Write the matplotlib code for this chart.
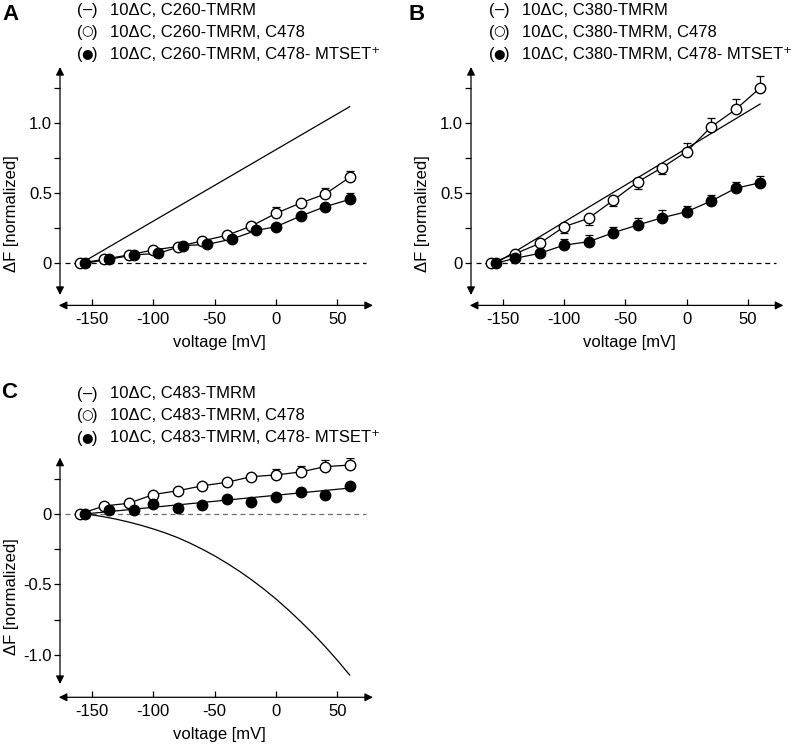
import matplotlib.pyplot as plt

plt.rcParams['font.family'] = ['Liberation Sans', 'DejaVu Sans']
plt.rcParams['axes.unicode_minus'] = False

volts = [-160, -140, -120, -100, -80, -60, -40, -20, 0, 20, 40, 60]

# panel A
a_open_v = volts
a_open_f = [0, 0.029, 0.06, 0.095, 0.12, 0.16, 0.20, 0.266, 0.357, 0.43, 0.494, 0.613]
a_open_err = [0, 0.01, 0.01, 0.01, 0.01, 0.01, 0.015, 0.03, 0.047, 0.01, 0.045, 0.045]
a_fill_v = [-156, -136, -116, -96, -76, -56, -36, -16, 0, 20, 40, 60]
a_fill_f = [0, 0.029, 0.06, 0.071, 0.126, 0.135, 0.173, 0.235, 0.261, 0.337, 0.404, 0.456]
a_fill_err = [0, 0.01, 0.01, 0.01, 0.01, 0.01, 0.01, 0.01, 0.01, 0.01, 0.01, 0.045]
a_line_v = [-159, 60]
a_line_f = [0, 1.117]

# panel B
b_open_v = volts
b_open_f = [0, 0.068, 0.142, 0.261, 0.321, 0.449, 0.58, 0.683, 0.796, 0.973, 1.097, 1.251]
b_open_lo = [0, 0.01, 0.01, 0.045, 0.045, 0.04, 0.047, 0.048, 0.01, 0.01, 0.01, 0.01]
b_open_hi = [0, 0.01, 0.01, 0.01, 0.01, 0.01, 0.01, 0.01, 0.065, 0.062, 0.072, 0.084]
b_fill_v = [-156, -140, -120, -100, -80, -60, -40, -20, 0, 20, 40, 60]
b_fill_f = [0, 0.036, 0.071, 0.13, 0.154, 0.218, 0.273, 0.325, 0.368, 0.444, 0.535, 0.575]
b_fill_err = [0, 0.01, 0.01, 0.045, 0.045, 0.042, 0.048, 0.055, 0.04, 0.04, 0.042, 0.045]
b_line_v = [-156, 60]
b_line_f = [0, 1.136]

# panel C
c_open_v = volts
c_open_f = [0, 0.057, 0.076, 0.138, 0.165, 0.2, 0.225, 0.265, 0.277, 0.298, 0.336, 0.347]
c_open_err = [0, 0.01, 0.01, 0.01, 0.01, 0.01, 0.01, 0.01, 0.045, 0.042, 0.045, 0.048]
c_fill_v = [-156, -136, -116, -100, -80, -60, -40, -20, 0, 20, 40, 60]
c_fill_f = [0, 0.028, 0.028, 0.069, 0.045, 0.062, 0.109, 0.083, 0.123, 0.154, 0.135, 0.199]
c_fill_fit_v = [-156, 60]
c_fill_fit_f = [0, 0.184]
c_line_v = [-156, -150, -140, -130, -120, -110, -100, -90, -80, -70, -60, -50,
            -40, -30, -20, -10, 0, 10, 20, 30, 40, 50, 60]
c_line_f = [0, -0.006, -0.02, -0.037, -0.057, -0.08, -0.106, -0.135, -0.168, -0.207, -0.25, -0.297,
            -0.349, -0.405, -0.466, -0.532, -0.603, -0.68, -0.762, -0.848, -0.94, -1.038, -1.142]

legend_a = ['10ΔC, C260-TMRM', '10ΔC, C260-TMRM, C478', '10ΔC, C260-TMRM, C478- MTSET⁺']
legend_b = ['10ΔC, C380-TMRM', '10ΔC, C380-TMRM, C478', '10ΔC, C380-TMRM, C478- MTSET⁺']
legend_c = ['10ΔC, C483-TMRM', '10ΔC, C483-TMRM, C478', '10ΔC, C483-TMRM, C478- MTSET⁺']
symbols = ['–', '○', '●']

W, H = 800, 745
fig = plt.figure(figsize=(W / 100, H / 100), dpi=100)

FS = 12
MS = 7.5


def frame(ax, ylim, ytop_arrow, ybot_arrow, yticks, ylabels, yminor, zero_color='k'):
    xmin, xmax = -176, 79
    ax.set_xlim(xmin, xmax)
    ax.set_ylim(*ylim)
    for s in ax.spines.values():
        s.set_visible(False)
    ax.set_xticks([-150, -100, -50, 0, 50])
    ax.set_xticklabels(['-150', '-100', '-50', '0', '50'])
    ax.set_yticks(yticks)
    ax.set_yticklabels(ylabels)
    ax.set_yticks(yminor, minor=True)
    ax.tick_params(axis='x', direction='in', length=4, width=0.9, pad=5, labelsize=FS)
    ax.tick_params(axis='y', which='both', direction='out', length=4.3, width=0.9, pad=1.5, labelsize=FS)
    ap = dict(arrowstyle='<|-|>', color='k', lw=0.9, shrinkA=0, shrinkB=0, mutation_scale=12)
    ax.annotate('', xy=(xmin, ytop_arrow), xytext=(xmin, ybot_arrow), arrowprops=ap,
                annotation_clip=False)
    ax.annotate('', xy=(xmax, ylim[0]), xytext=(xmin - 1, ylim[0]), arrowprops=ap,
                annotation_clip=False)
    ax.hlines(0, -172, 73, colors=zero_color, linestyles=(0, (4, 3)), lw=0.9)
    ax.set_xlabel('voltage [mV]', fontsize=FS)
    ax.set_ylabel('ΔF [normalized]', fontsize=FS)
    ax.patch.set_visible(False)


def series(ax, v, f, err, filled):
    ax.errorbar(v, f, yerr=err, fmt='none', ecolor='k', elinewidth=0.9, capsize=3, capthick=0.9, zorder=2)
    ax.plot(v, f, 'o', ms=MS, mec='k', mew=1, mfc='k' if filled else 'white', zorder=4 if filled else 3)


def legend(x, y, texts):
    for i, (sym, t) in enumerate(zip(symbols, texts)):
        yy = 1 - (y + 22 * i) / H
        fig.text(x / W, yy, '(', fontsize=FS, va='center', ha='left')
        if sym == '–':
            fig.text((x + 10.5) / W, yy, sym, fontsize=FS, va='center', ha='center')
        else:
            fig.text((x + 10.5) / W, yy + 0.5 / H, sym, fontsize=9.5, va='center', ha='center',
                     family=['DejaVu Sans'])
        fig.text((x + 21) / W, yy, ')', fontsize=FS, va='center', ha='right')
        fig.text((x + 33) / W, yy, t, fontsize=FS, va='center', ha='left')


# A
axA = fig.add_axes([60 / W, 1 - 305.4 / H, 313 / W, 238.4 / H])
frame(axA, (-0.30, 1.40), 1.40, -0.226, [0, 0.5, 1.0], ['0', '0.5', '1.0'], [0.25, 0.75, 1.25])
axA.plot(a_line_v, a_line_f, color='k', lw=0.9)
axA.plot(a_open_v, a_open_f, color='k', lw=0.9, zorder=1)
axA.plot(a_fill_v, a_fill_f, color='k', lw=0.9, zorder=1)
series(axA, a_open_v, a_open_f, [[0] * 12, a_open_err], False)
series(axA, a_fill_v, a_fill_f, [[0] * 12, a_fill_err], True)

# B
axB = fig.add_axes([471 / W, 1 - 305.4 / H, 312.4 / W, 238.4 / H])
frame(axB, (-0.30, 1.40), 1.40, -0.226, [0, 0.5, 1.0], ['0', '0.5', '1.0'], [0.25, 0.75, 1.25])
axB.plot(b_line_v, b_line_f, color='k', lw=0.9)
axB.plot(b_open_v, b_open_f, color='k', lw=0.9, zorder=1)
axB.plot(b_fill_v, b_fill_f, color='k', lw=0.9, zorder=1)
series(axB, b_open_v, b_open_f, [b_open_lo, b_open_hi], False)
series(axB, b_fill_v, b_fill_f, [[0] * 12, b_fill_err], True)

# C
axC = fig.add_axes([60 / W, 1 - 697.3 / H, 313 / W, 239.7 / H])
frame(axC, (-1.30, 0.40), 0.40, -1.206, [-1.0, -0.5, 0], ['-1.0', '-0.5', '0'], [-0.75, -0.25, 0.25],
      zero_color='#6e6e6e')
axC.plot(c_line_v, c_line_f, color='k', lw=0.9)
axC.plot(c_open_v, c_open_f, color='k', lw=0.9, zorder=1)
axC.plot(c_fill_fit_v, c_fill_fit_f, color='k', lw=0.9, zorder=1)
series(axC, c_open_v, c_open_f, [[0] * 12, c_open_err], False)
series(axC, c_fill_v, c_fill_f, [[0] * 12, [0] * 12], True)

for ax, ylab_y in ((axA, 0.383), (axB, 0.383), (axC, 0.418)):
    ax.xaxis.set_label_coords(0.508, -0.125)
    ax.yaxis.set_label_coords(-0.13, ylab_y)

legend(77, 10.5, legend_a)
legend(489, 10.5, legend_b)
legend(77, 394, legend_c)

fig.text(2 / W, 1 - 20 / H, 'A', fontsize=16, fontweight='bold', va='baseline')
fig.text(409 / W, 1 - 20 / H, 'B', fontsize=16, fontweight='bold', va='baseline')
fig.text(1 / W, 1 - 398 / H, 'C', fontsize=16, fontweight='bold', va='baseline')

fig.savefig('out.png', dpi=100)
